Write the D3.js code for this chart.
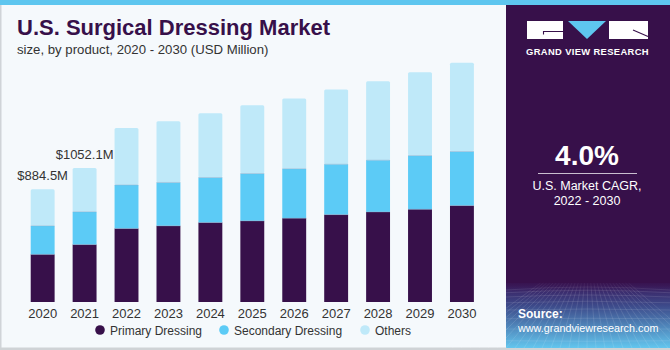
<!DOCTYPE html>
<html>
<head>
<meta charset="utf-8">
<script src="https://cdn.jsdelivr.net/npm/d3@7"></script>
<style>
  html, body { margin: 0; padding: 0; background: #ffffff; }
  svg { display: block; }
  text { font-family: "Liberation Sans", Arial, sans-serif; }
</style>
</head>
<body>
<svg id="chart" width="670" height="350"></svg>
<script>
const years = ["2020","2021","2022","2023","2024","2025","2026","2027","2028","2029","2030"];
const primaryDressing   = [374, 451, 577, 598, 624, 637, 658, 686, 707, 728, 757];
const secondaryDressing = [224, 257, 341, 340, 353, 371, 388, 395, 406, 421, 424];
const others            = [286.5, 344.1, 447, 481, 505, 536, 551, 587, 619, 655, 697];
const seriesNames = ["Primary Dressing", "Secondary Dressing", "Others"];
const seriesColors = ["#37104a", "#5ccbf6", "#bfe9f9"];
const valueLabels = [{ year: "2020", text: "$884.5M" }, { year: "2021", text: "$1052.1M" }];

const svg = d3.select("#chart");
const W = 670, H = 350;

// backgrounds
svg.append("rect").attr("x", 0).attr("y", 0).attr("width", W).attr("height", H).attr("fill", "#f5f9fc");
svg.append("rect").attr("x", 0).attr("y", 0).attr("width", 1.5).attr("height", H).attr("fill", "#d0d4d8");
svg.append("rect").attr("x", 0).attr("y", 347.5).attr("width", W).attr("height", 2.5).attr("fill", "#cfd3d6");

// right panel
const defs = svg.append("defs");
const grad = defs.append("linearGradient").attr("id", "srcGrad").attr("x1", 0).attr("y1", 0).attr("x2", 0).attr("y2", 1);
grad.append("stop").attr("offset", "0%").attr("stop-color", "#3a1a5c");
grad.append("stop").attr("offset", "35%").attr("stop-color", "#3d4a8a");
grad.append("stop").attr("offset", "100%").attr("stop-color", "#63c6ee");
const fadeGrad = defs.append("linearGradient").attr("id", "fadeGrad").attr("x1", 0).attr("y1", 0).attr("x2", 0).attr("y2", 1);
fadeGrad.append("stop").attr("offset", "0%").attr("stop-color", "#37104a").attr("stop-opacity", 1);
fadeGrad.append("stop").attr("offset", "100%").attr("stop-color", "#37104a").attr("stop-opacity", 0);

svg.append("rect").attr("x", 506).attr("y", 0).attr("width", 164).attr("height", 348).attr("fill", "#37104a");
svg.append("rect").attr("x", 506).attr("y", 283).attr("width", 164).attr("height", 65).attr("fill", "url(#srcGrad)");
// grid pattern decoration
const gridG = svg.append("g").attr("stroke", "#ffffff").attr("stroke-opacity", 0.18).attr("stroke-width", 0.6).attr("fill", "none");
for (let i = 0; i < 9; i++) {
  const y = 290 + i * i * 0.75 + i * 2;
  gridG.append("path").attr("d", `M506,${y} Q588,${y - 6 + i} 670,${y}`);
}
for (let i = -6; i <= 22; i++) {
  const xb = 506 + i * 9;
  gridG.append("line").attr("x1", 588 + (xb - 588) * 0.35).attr("y1", 283).attr("x2", xb).attr("y2", 348);
}
svg.append("rect").attr("x", 506).attr("y", 278).attr("width", 164).attr("height", 14).attr("fill", "url(#fadeGrad)");

// top stripe
svg.append("rect").attr("x", 0).attr("y", 0).attr("width", W).attr("height", 5).attr("fill", "#5ec6ef");

// logo
svg.append("rect").attr("x", 527).attr("y", 21).attr("width", 36).attr("height", 18).attr("fill", "#ffffff");
svg.append("path").attr("d", "M543.5,34.5 V31.5 H563").attr("stroke", "#37104a").attr("stroke-width", 1.1).attr("fill", "none");
svg.append("path").attr("d", "M568,21 L606,21 L587,39 Z").attr("fill", "#5ec6ef");
svg.append("rect").attr("x", 609).attr("y", 21).attr("width", 39).attr("height", 18).attr("fill", "#ffffff");
svg.append("path").attr("d", "M633,30 L648,36.5").attr("stroke", "#37104a").attr("stroke-width", 1.1).attr("fill", "none");
svg.append("text").attr("x", 587.5).attr("y", 54.5).attr("text-anchor", "middle")
  .attr("fill", "#ffffff").attr("font-size", 9.4).attr("font-weight", "bold").attr("letter-spacing", 0.35)
  .text("GRAND VIEW RESEARCH");

// CAGR
svg.append("text").attr("x", 587).attr("y", 165).attr("text-anchor", "middle")
  .attr("fill", "#ffffff").attr("font-size", 28).attr("font-weight", "bold").text("4.0%");
svg.append("line").attr("x1", 538).attr("x2", 637).attr("y1", 173.5).attr("y2", 173.5)
  .attr("stroke", "#c9bfd0").attr("stroke-width", 1);
svg.append("text").attr("x", 587).attr("y", 190).attr("text-anchor", "middle")
  .attr("fill", "#ffffff").attr("font-size", 12.5).text("U.S. Market CAGR,");
svg.append("text").attr("x", 587).attr("y", 204.5).attr("text-anchor", "middle")
  .attr("fill", "#ffffff").attr("font-size", 12.5).text("2022 - 2030");

// source
svg.append("text").attr("x", 518).attr("y", 318).attr("fill", "#ffffff").attr("font-size", 12).attr("font-weight", "bold").text("Source:");
svg.append("text").attr("x", 518).attr("y", 332).attr("fill", "#ffffff").attr("font-size", 10.8).text("www.grandviewresearch.com");

// title
svg.append("text").attr("x", 17).attr("y", 34.5).attr("fill", "#37104a")
  .attr("font-size", 22).attr("font-weight", "bold").text("U.S. Surgical Dressing Market");
svg.append("text").attr("x", 17).attr("y", 53.5).attr("fill", "#333333")
  .attr("font-size", 13.2).text("size, by product, 2020 - 2030 (USD Million)");

// chart
const baseline = 302;
const x = d3.scaleBand().domain(years).range([21.7, 482.9]).paddingInner(0.43).paddingOuter(0.215);
const y = d3.scaleLinear().domain([0, 884.5]).range([baseline, 189.3]);

const rows = years.map((yr, i) => ({ year: yr, p: primaryDressing[i], s: secondaryDressing[i], o: others[i] }));
const stack = d3.stack().keys(["p", "s", "o"]);
const stacked = stack(rows);

const barsG = svg.append("g");
stacked.forEach((layer, li) => {
  barsG.append("g").attr("fill", seriesColors[li])
    .selectAll("rect").data(layer).join("rect")
    .attr("x", d => x(d.data.year))
    .attr("width", x.bandwidth())
    .attr("y", d => y(d[1]))
    .attr("height", d => y(d[0]) - y(d[1]))
    .attr("rx", li === 2 ? 1.5 : 0);
});
// thin separators between segments
stacked.slice(0, 2).forEach(layer => {
  barsG.append("g").selectAll("line").data(layer).join("line")
    .attr("x1", d => x(d.data.year)).attr("x2", d => x(d.data.year) + x.bandwidth())
    .attr("y1", d => y(d[1])).attr("y2", d => y(d[1]))
    .attr("stroke", "#8fa9c8").attr("stroke-opacity", 0.6).attr("stroke-width", 0.7);
});

// x axis labels
const xAxis = d3.axisBottom(x).tickSize(0).tickPadding(0);
const axG = svg.append("g").attr("transform", `translate(0,${baseline})`).call(xAxis);
axG.select(".domain").remove();
axG.selectAll("text").attr("font-size", 13).attr("fill", "#333333")
  .attr("font-family", "'Liberation Sans', Arial, sans-serif").attr("dy", "1.25em");

// value labels
valueLabels.forEach(v => {
  const i = years.indexOf(v.year);
  const total = primaryDressing[i] + secondaryDressing[i] + others[i];
  svg.append("text").attr("x", x(v.year) + x.bandwidth() / 2).attr("y", y(total) - 9)
    .attr("text-anchor", "middle").attr("fill", "#333333").attr("font-size", 13).text(v.text);
});

// legend
const legendX = [100, 224, 365];
const lg = svg.append("g");
seriesNames.forEach((name, i) => {
  lg.append("circle").attr("cx", legendX[i]).attr("cy", 330).attr("r", 4.8).attr("fill", seriesColors[i]);
  lg.append("text").attr("x", legendX[i] + 10).attr("y", 334.5).attr("fill", "#333333").attr("font-size", 12).text(name);
});
</script>
</body>
</html>
